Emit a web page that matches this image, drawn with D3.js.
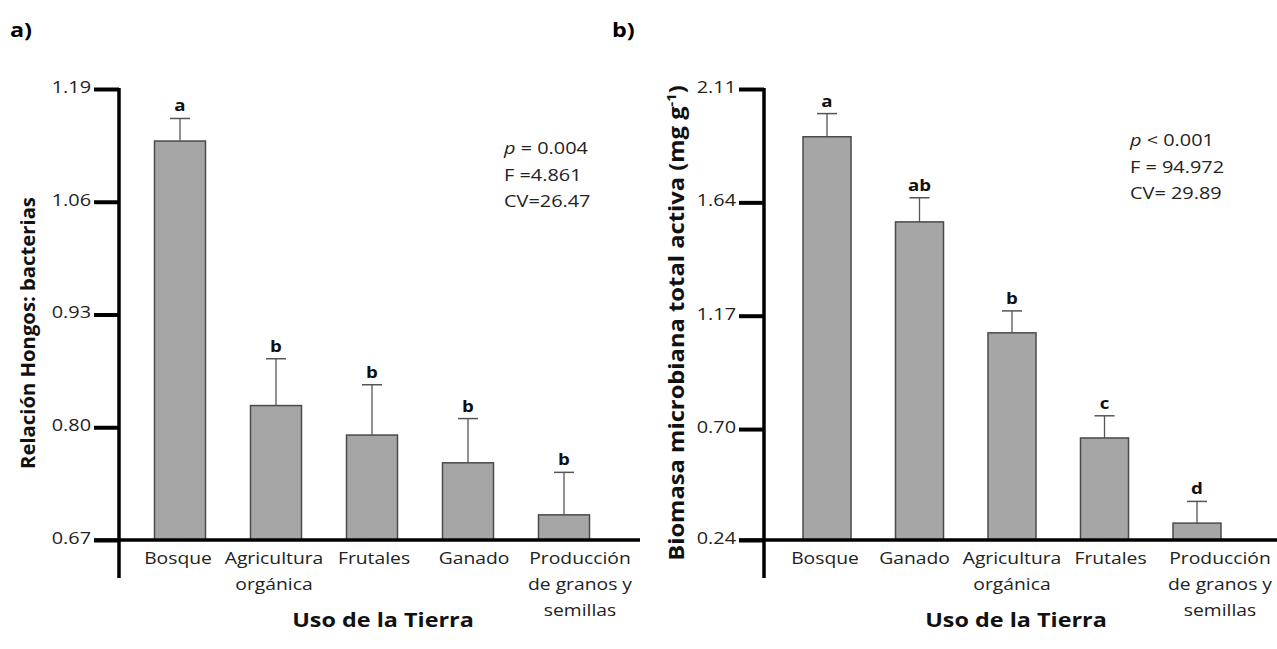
<!DOCTYPE html>
<html>
<head>
<meta charset="utf-8">
<script src="https://cdn.jsdelivr.net/npm/d3@7"></script>
<style>
  body{margin:0;background:#fff;}
  svg{display:block;font-family:'Open Sans',sans-serif;}
</style>
</head>
<body>
<svg id="chart" width="1277" height="649"></svg>
<script>
// panel a) Relación Hongos: bacterias
const catsA=["Bosque","Agricultura\norgánica","Frutales","Ganado","Producción\nde granos y\nsemillas"];
const meanA=[1.13,0.825,0.791,0.759,0.699];
const errA=[0.026,0.054,0.058,0.051,0.049];
const lettersA=["a","b","b","b","b"];
const ticksA=[0.67,0.80,0.93,1.06,1.19];
const statsA=[["p"," = 0.004"],["","F =4.861"],["","CV=26.47"]];

// panel b) Biomasa microbiana total activa
const catsB=["Bosque","Ganado","Agricultura\norgánica","Frutales","Producción\nde granos y\nsemillas"];
const meanB=[1.912,1.559,1.099,0.663,0.31];
const errB=[0.096,0.10,0.091,0.092,0.09];
const lettersB=["a","ab","b","c","d"];
const ticksB=[0.24,0.70,1.17,1.64,2.11];
const statsB=[["p"," < 0.001"],["","F = 94.972"],["","CV= 29.89"]];

const svg=d3.select("#chart");
const FONT="'Open Sans',sans-serif";
const SX=1.17; // the source figure is a bit wide-stretched

function txt(g,x,y,s){
  return g.append("text").attr("transform",`translate(${x},${y}) scale(${SX},1)`).text(s||null);
}

function drawPanel(o){
  const y=d3.scaleLinear().domain([o.ticks[0],o.ticks[o.ticks.length-1]]).range([540,89]);
  const x=d3.scalePoint().domain(o.cats).range(o.xr);
  const g=svg.append("g");

  // panel letter
  txt(g,o.lx,37,o.label).attr("font-size",20).attr("font-weight",700).attr("fill","#000");

  // y axis ticks + labels
  const ax=g.append("g").attr("transform",`translate(${o.ax},0)`)
    .call(d3.axisLeft(y).tickValues(o.ticks).tickFormat(d3.format(".2f")).tickSize(25).tickSizeOuter(0));
  ax.select(".domain").remove();
  ax.selectAll(".tick line").attr("stroke","#000").attr("stroke-width",4);
  ax.selectAll(".tick text").attr("font-family",FONT).attr("font-size",17)
    .attr("fill","#222").attr("x",0).attr("dy","0.2em")
    .attr("transform",`translate(-28,0) scale(${SX},1)`);

  // axis lines
  g.append("line").attr("x1",o.ax).attr("x2",o.ax).attr("y1",y(o.ticks[o.ticks.length-1])-1).attr("y2",578)
    .attr("stroke","#000").attr("stroke-width",3.5);

  // bars
  const bw=o.bw;
  o.mean.forEach((m,i)=>{
    const c=x(o.cats[i]);
    g.append("rect").attr("x",c-bw/2).attr("y",y(m)).attr("width",bw).attr("height",y(o.ticks[0])-y(m))
      .attr("fill","#a6a6a6").attr("stroke","#4a4a4a").attr("stroke-width",1.5);
    const top=y(m+o.err[i]);
    g.append("line").attr("x1",c).attr("x2",c).attr("y1",y(m)).attr("y2",top)
      .attr("stroke","#555").attr("stroke-width",1.3);
    g.append("line").attr("x1",c-10).attr("x2",c+10).attr("y1",top).attr("y2",top)
      .attr("stroke","#555").attr("stroke-width",1.5);
    txt(g,c,top-7,o.letters[i]).attr("text-anchor","middle")
      .attr("font-size",16).attr("font-weight",700).attr("fill","#111");
  });

  g.append("line").attr("x1",o.ax-25).attr("x2",o.xe).attr("y1",540).attr("y2",540)
    .attr("stroke","#000").attr("stroke-width",3.5);

  // category labels
  o.cats.forEach((c,i)=>{
    const t=txt(g,x(c)+(o.dx[i]||0),564).attr("text-anchor","middle")
      .attr("font-size",16.5).attr("fill","#222");
    c.split("\n").forEach((ln,j)=>t.append("tspan").attr("x",0).attr("dy",j?26:0).text(ln));
  });

  // x title
  txt(g,o.xt,627,"Uso de la Tierra").attr("text-anchor","middle")
    .attr("font-size",20).attr("font-weight",700).attr("fill","#111");

  // y title, stretched to the length it has in the figure
  const yt=g.append("text").attr("text-anchor","middle").attr("font-size",o.yfs)
    .attr("font-weight",700).attr("fill","#111");
  o.ytitle(yt);
  const len=yt.node().getComputedTextLength();
  yt.attr("transform",`translate(${o.ytx},${o.yty}) rotate(-90) scale(${o.ylen/len},1)`);

  // stats
  o.stats.forEach((s,i)=>{
    const t=txt(g,o.sx,o.sy+i*26.5).attr("font-size",17).attr("fill","#222");
    if(s[0])t.append("tspan").attr("font-style","italic").text(s[0]);
    t.append("tspan").text(s[1]);
  });
}

drawPanel({label:"a)",lx:10,cats:catsA,mean:meanA,err:errA,letters:lettersA,ticks:ticksA,stats:statsA,
  ax:119,xr:[180,564],bw:51,xe:640,xt:383,ytx:35,yty:333,yfs:20,ylen:272,sx:504,sy:154,dx:[-2,-2,2,6,16],
  ytitle:t=>t.text("Relación Hongos: bacterias")});

drawPanel({label:"b)",lx:612,cats:catsB,mean:meanB,err:errB,letters:lettersB,ticks:ticksB,stats:statsB,
  ax:764,xr:[827,1197],bw:48,xe:1277,xt:1016,ytx:684,yty:323,yfs:21,ylen:476,sx:1130,sy:146,dx:[-2,-5,0,6,23],
  ytitle:t=>{
    t.append("tspan").text("Biomasa microbiana  total activa (mg g");
    t.append("tspan").attr("font-size",13).attr("dy",-8).text("-1");
    t.append("tspan").attr("dy",8).text(")");
  }});
</script>
</body>
</html>
